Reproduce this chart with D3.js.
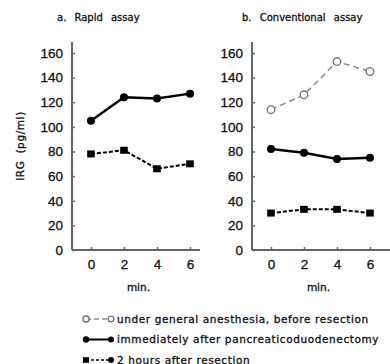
<!DOCTYPE html>
<html>
<head>
<meta charset="utf-8">
<script src="https://cdn.jsdelivr.net/npm/d3@7"></script>
<style>
  html,body{margin:0;padding:0;background:#fff;}
  svg{display:block;font-family:"DejaVu Sans",sans-serif;}
  svg text{fill:#111;stroke:#111;stroke-width:0.3px;}
  .tick text{font-size:13.5px;}
</style>
</head>
<body>
<div id="chart"></div>
<script>
// data
const minutes=[0,2,4,6];
const yTicks=[0,20,40,60,80,100,120,140,160];
const rapidImmediate=[105,124,123,127];
const rapidTwoHours=[78,81,66,70];
const convBefore=[114,126,153,145];
const convImmediate=[82,79,74,75];
const convTwoHours=[30,33,33,30];
const panelTitles=["a. Rapid assay","b. Conventional assay"];
const legendLabels=[
  "under general anesthesia, before resection",
  "immediately after pancreaticoduodenectomy",
  "2 hours after resection"
];

const W=390,H=364;
const svg=d3.select("#chart").append("svg").attr("width",W).attr("height",H);

const ySc=d3.scaleLinear().domain([0,160]).range([250,53]);
const AX="#666";

// series styles
const ST={
  before:{stroke:"#8a8a8a",w:1.5,dash:"6,4",mark:"open"},
  immediate:{stroke:"#000",w:2.5,dash:null,mark:"dot"},
  two:{stroke:"#000",w:2,dash:"4,2",mark:"square"}
};

function marker(g,type,x,y,s){
  s=s||1;
  if(type==="open"){
    g.append("circle").attr("cx",x).attr("cy",y).attr("r",3.8*s)
      .attr("fill","#fff").attr("stroke","#777").attr("stroke-width",1.4);
  } else if(type==="dot"){
    g.append("circle").attr("cx",x).attr("cy",y).attr("r",4*s).attr("fill","#000");
  } else {
    g.append("rect").attr("x",x-3.8*s).attr("y",y-3.5*s).attr("width",7.6*s).attr("height",7*s).attr("fill","#000");
  }
}

function panel(x0,x1,tx,title,series){
  const xSc=d3.scaleLinear().domain([-1.15,(x1-x0)/16.5-1.15]).range([x0,x1]);
  const g=svg.append("g");

  g.append("text").attr("x",tx).attr("y",21)
    .attr("font-size",10).attr("word-spacing",5).text(title);

  // axes
  g.append("g").attr("transform",`translate(${x0},0)`)
    .call(d3.axisLeft(ySc).tickValues(yTicks).tickSize(-3).tickPadding(9).tickSizeOuter(0))
    .call(a=>a.select(".domain").remove())
    .call(a=>a.selectAll(".tick line").attr("stroke",AX).attr("stroke-width",1.5));
  g.append("g").attr("transform","translate(0,250)")
    .call(d3.axisBottom(xSc).tickValues(minutes).tickSize(-3).tickPadding(9).tickSizeOuter(0))
    .call(a=>a.select(".domain").remove())
    .call(a=>a.selectAll(".tick line").attr("stroke",AX).attr("stroke-width",1.5));
  g.append("line").attr("x1",x0).attr("x2",x0).attr("y1",ySc(0)).attr("y2",ySc(169))
    .attr("stroke",AX).attr("stroke-width",2);
  g.append("line").attr("x1",x0).attr("x2",x1).attr("y1",ySc(0)).attr("y2",ySc(0))
    .attr("stroke",AX).attr("stroke-width",2);

  g.append("text").attr("x",xSc(3)-2).attr("y",291).attr("text-anchor","middle")
    .attr("font-size",10.5).text("min.");

  const line=d3.line().x((_,i)=>xSc(minutes[i])).y(v=>ySc(v));
  series.forEach(s=>{
    const st=ST[s.key];
    g.append("path").attr("d",line(s.data)).attr("fill","none")
      .attr("stroke",st.stroke).attr("stroke-width",st.w)
      .attr("stroke-dasharray",st.dash);
    s.data.forEach((v,i)=>marker(g,st.mark,xSc(minutes[i]),ySc(v)));
  });
}

panel(72,200,57,panelTitles[0],[
  {key:"immediate",data:rapidImmediate},
  {key:"two",data:rapidTwoHours}
]);
panel(252,390,242,panelTitles[1],[
  {key:"before",data:convBefore},
  {key:"immediate",data:convImmediate},
  {key:"two",data:convTwoHours}
]);

// y label
svg.append("text").attr("transform","translate(24,146) rotate(-90)")
  .attr("text-anchor","middle").attr("font-size",10.5).attr("letter-spacing",0.6)
  .attr("word-spacing",3).text("IRG (pg/ml)");

// legend
const legKeys=["before","immediate","two"];
const lg=svg.append("g");
legKeys.forEach((k,i)=>{
  const y=319+i*20.5, st=ST[k];
  lg.append("line").attr("x1",86).attr("x2",111).attr("y1",y).attr("y2",y)
    .attr("stroke",st.stroke).attr("stroke-width",st.w===2.5?2:1.6)
    .attr("stroke-dasharray",st.dash?(k==="two"?"3,2":"5,3"):null);
  marker(lg,st.mark,86,y,0.8);
  marker(lg,st.mark==="square"?"dot":st.mark,111,y,0.75);
  lg.append("text").attr("x",117).attr("y",y+3.5).attr("font-size",10.5)
    .attr("letter-spacing",0.6).text(legendLabels[i]);
});
</script>
</body>
</html>
